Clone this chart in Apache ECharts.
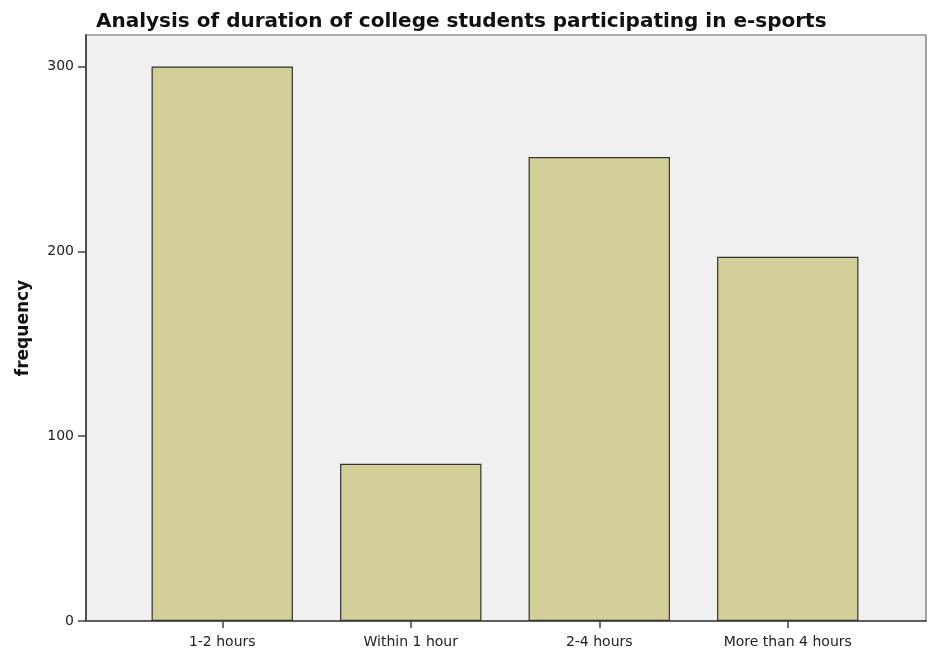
<!DOCTYPE html>
<html>
<head>
<meta charset="utf-8">
<script src="https://cdn.jsdelivr.net/npm/echarts@6/dist/echarts.min.js"></script>
<style>html,body{margin:0;padding:0;background:#fff}#c{width:928px;height:650px}</style>
</head>
<body>
<div id="c"></div>
<script>
const categories = ['1-2 hours', 'Within 1 hour', '2-4 hours', 'More than 4 hours'];
const frequency = [300, 85, 251, 197];
const yTicks = [0, 100, 200, 300];

const chart = echarts.init(document.getElementById('c'), null, {renderer: 'canvas'});
chart.setOption({
  animation: false,
  backgroundColor: '#ffffff',
  title: {
    text: 'Analysis of duration of college students participating in e-sports',
    left: 91, top: 7,
    textStyle: {fontFamily: 'DejaVu Sans', fontWeight: 'bold', fontSize: 20, color: '#111'}
  },
  grid: [
    {left: 86, right: 2, top: 35, bottom: 29, show: true, backgroundColor: '#f0f0f0', borderColor: '#666', borderWidth: 1.2},
    {left: 128, right: 46, top: 35, bottom: 29}
  ],
  xAxis: [
    {gridIndex: 0, type: 'value', min: 0, max: 1, axisLabel: {show: false}, axisTick: {show: false}, splitLine: {show: false},
     axisLine: {show: true, lineStyle: {color: '#444', width: 1.5}}},
    {gridIndex: 1, type: 'category', data: categories,
     axisLine: {show: false},
     axisTick: {show: true, alignWithLabel: true, length: 7, lineStyle: {color: '#444', width: 1.5}},
     axisLabel: {fontFamily: 'DejaVu Sans', fontSize: 14, color: '#222', margin: 14}}
  ],
  yAxis: [
    {gridIndex: 0, type: 'value', min: 0, max: 317,
     name: 'frequency', nameLocation: 'middle', nameGap: 54, nameRotate: 90,
     nameTextStyle: {fontFamily: 'DejaVu Sans', fontWeight: 'bold', fontSize: 17, color: '#111'},
     axisLine: {show: true, lineStyle: {color: '#444', width: 1.8}},
     axisTick: {show: true, length: 8, customValues: yTicks, lineStyle: {color: '#444', width: 1.5}},
     axisLabel: {fontFamily: 'DejaVu Sans', fontSize: 14, color: '#222', margin: 12, customValues: yTicks},
     splitLine: {show: false}},
    {gridIndex: 1, type: 'value', min: 0, max: 317, show: false}
  ],
  series: [
    {type: 'bar', xAxisIndex: 1, yAxisIndex: 1, data: frequency, barCategoryGap: '25%',
     itemStyle: {color: '#d3cf98', borderColor: '#333', borderWidth: 1.2}}
  ]
});
</script>
</body>
</html>
